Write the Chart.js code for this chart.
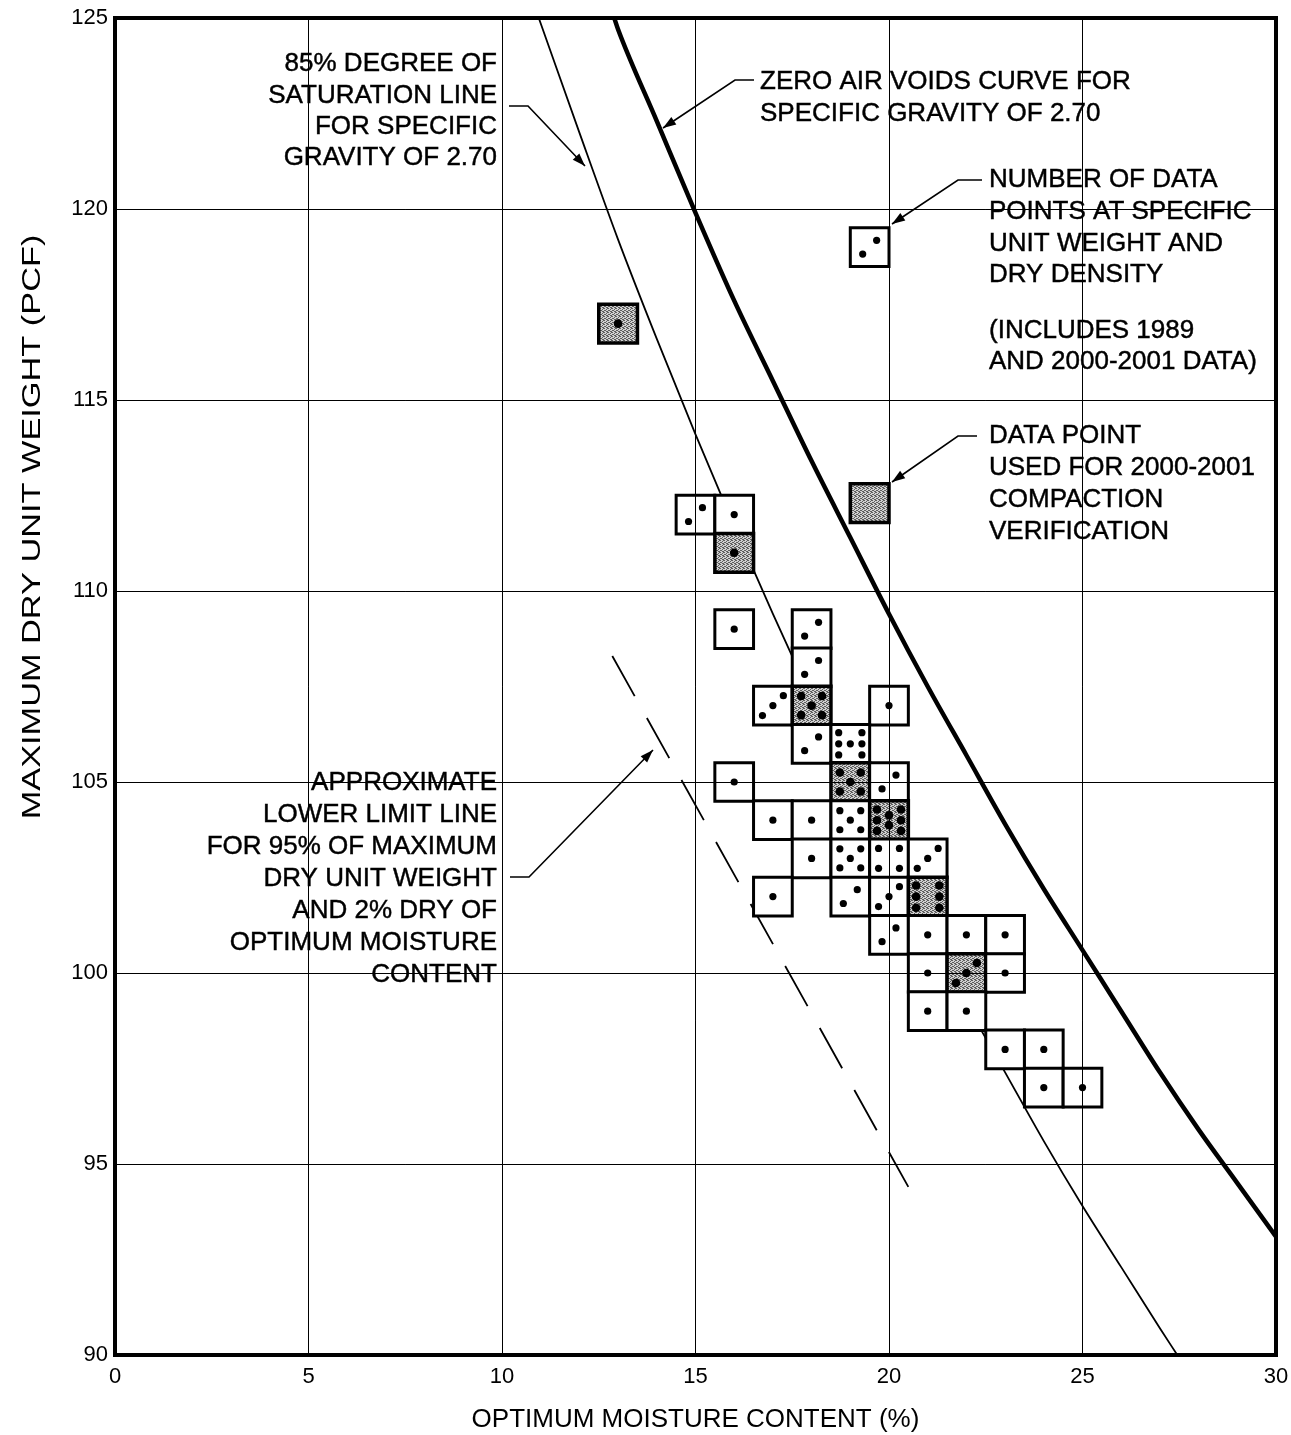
<!DOCTYPE html>
<html>
<head>
<meta charset="utf-8">
<title>Maximum dry unit weight vs optimum moisture content</title>
<script src="https://cdn.jsdelivr.net/npm/chart.js@4.4.1/dist/chart.umd.min.js"></script>
<style>
  html, body { margin: 0; padding: 0; background: #fff; }
  #wrap { width: 1291px; height: 1435px; position: relative; }
</style>
</head>
<body>
<div id="wrap"><canvas id="compaction"></canvas></div>
<script>
// values
const xTicks = [0, 5, 10, 15, 20, 25, 30];
const yTicks = [90, 95, 100, 105, 110, 115, 120, 125];

// one box per moisture / unit weight pair, count = dots in the box,
// verified = shaded box (used for 2000-2001 compaction verification)
const boxMoisture = [13, 15, 16, 16, 16, 18, 18, 17, 18, 20, 18, 19, 16, 19, 20, 17, 18, 19, 20, 18,
                     19, 20, 21, 17, 19, 20, 21, 20, 21, 22, 23, 21, 22, 23, 21, 22, 23, 24, 24, 25];
const boxDensity  = [117, 112, 112, 111, 109, 109, 108, 107, 107, 107, 106, 106, 105, 105, 105, 104, 104, 104, 104, 103,
                     103, 103, 103, 102, 102, 102, 102, 101, 101, 101, 101, 100, 100, 100, 99, 99, 98, 98, 97, 97];
const boxCount    = [1, 2, 1, 1, 1, 2, 2, 3, 5, 1, 2, 7, 1, 5, 2, 1, 1, 5, 8, 1,
                     5, 4, 3, 1, 2, 3, 6, 2, 1, 1, 1, 1, 3, 1, 1, 1, 1, 1, 1, 1];
const boxVerified = [1, 0, 0, 1, 0, 0, 0, 0, 1, 0, 0, 0, 0, 1, 0, 0, 0, 0, 1, 0,
                     0, 0, 0, 0, 0, 0, 1, 0, 0, 0, 0, 0, 1, 0, 0, 0, 0, 0, 0, 0];

// the two sample boxes next to the notes on the right
const keyMoisture = [19.5, 19.5];
const keyDensity  = [119, 112.3];
const keyCount    = [2, 0];
const keyVerified = [0, 1];

// zero air voids curve, Gs = 2.70
const zavMoisture = [12.9, 13, 14, 15, 16, 17, 18, 19, 20, 21, 22, 23, 24, 25, 26, 27, 28, 29, 30];
const zavDensity  = [125.0, 124.7, 122.3, 119.9, 117.6, 115.5, 113.4, 111.4, 109.4, 107.5,
                     105.7, 103.9, 102.2, 100.6, 99.0, 97.4, 95.9, 94.5, 93.1];

// 85% degree of saturation line, Gs = 2.70
const satMoisture = [10.95, 12, 13, 14, 15, 16, 17, 18, 19, 20, 21, 22, 23, 24, 25, 26, 27, 27.45];
const satDensity  = [125.0, 122.0, 119.2, 116.6, 114.1, 111.7, 109.4, 107.2, 105.1, 103.0,
                     101.1, 99.2, 97.4, 95.6, 93.9, 92.3, 90.7, 90.0];

// approximate lower limit line (dashed)
const limitMoisture = [12.85, 20.5];
const limitDensity  = [108.3, 94.4];

// where the dots sit inside a box, in moisture / unit weight units from the centre
const dotLayouts = {
  0: [],
  1: [[0, 0]],
  2: [[-0.18, -0.18], [0.18, 0.18]],
  3: [[-0.27, -0.26], [0, 0], [0.27, 0.26]],
  4: [[-0.27, 0.26], [0.27, 0.26], [-0.27, -0.26], [0.27, -0.26]],
  5: [[-0.27, 0.25], [0.27, 0.25], [0, 0], [-0.27, -0.25], [0.27, -0.25]],
  6: [[-0.3, 0.29], [0.3, 0.29], [-0.3, 0], [0.3, 0], [-0.3, -0.29], [0.3, -0.29]],
  7: [[-0.3, 0.29], [0.3, 0.29], [-0.3, 0], [0, 0], [0.3, 0], [-0.3, -0.29], [0.3, -0.29]],
  8: [[-0.31, 0.28], [0, 0.13], [0.31, 0.28], [-0.31, 0], [0.31, 0], [-0.31, -0.28], [0, -0.13], [0.31, -0.28]]
};

const FONT = '"Liberation Sans", Arial, Helvetica, sans-serif';

const notes = [
  { x: 497, y: [62, 94, 125, 156], align: 'right',
    lines: ['85% DEGREE OF', 'SATURATION LINE', 'FOR SPECIFIC', 'GRAVITY OF 2.70'],
    leader: [[509, 106], [528, 106], [585, 166]] },
  { x: 760, y: [80, 112], align: 'left',
    lines: ['ZERO AIR VOIDS CURVE FOR', 'SPECIFIC GRAVITY OF 2.70'],
    leader: [[754, 80], [735, 80], [663, 128]] },
  { x: 989, y: [178, 210, 242, 273, 329, 360], align: 'left',
    lines: ['NUMBER OF DATA', 'POINTS AT SPECIFIC', 'UNIT WEIGHT AND', 'DRY DENSITY', '(INCLUDES 1989', 'AND 2000-2001 DATA)'],
    leader: [[982, 180], [958, 180], [892, 224]] },
  { x: 989, y: [434, 466, 498, 530], align: 'left',
    lines: ['DATA POINT', 'USED FOR 2000-2001', 'COMPACTION', 'VERIFICATION'],
    leader: [[977, 436], [958, 436], [892, 482]] },
  { x: 497, y: [781, 813, 845, 877, 909, 941, 973], align: 'right',
    lines: ['APPROXIMATE', 'LOWER LIMIT LINE', 'FOR 95% OF MAXIMUM', 'DRY UNIT WEIGHT', 'AND 2% DRY OF', 'OPTIMUM MOISTURE', 'CONTENT'],
    leader: [[510, 877], [529, 877], [653, 750]] }
];

function stipple() {
  const c = document.createElement('canvas');
  c.width = c.height = 4;
  const g = c.getContext('2d');
  g.fillStyle = '#d0d0d0';
  g.fillRect(0, 0, 4, 4);
  g.fillStyle = '#5e5e5e';
  [[0, 0], [2, 1], [1, 2], [3, 3], [2, 3], [0, 2], [3, 0]].forEach(([i, j]) => g.fillRect(i, j, 1, 1));
  return g.createPattern(c, 'repeat');
}
const shade = stipple();

const boxPoints = [];
const dotPoints = [];
function addBoxes(xs, ys, counts, flags) {
  xs.forEach((x, i) => {
    const shaded = !!flags[i];
    boxPoints.push({ x: x, y: ys[i], shaded: shaded });
    dotLayouts[counts[i]].forEach(([dx, dy]) => dotPoints.push({ x: x + dx, y: ys[i] + dy, shaded: shaded }));
  });
}
addBoxes(boxMoisture, boxDensity, boxCount, boxVerified);
addBoxes(keyMoisture, keyDensity, keyCount, keyVerified);

const toXY = (xs, ys) => xs.map((x, i) => ({ x: x, y: ys[i] }));

const unitPx = chart => chart.scales.x.getPixelForValue(1) - chart.scales.x.getPixelForValue(0);

function arrowHead(ctx, from, to) {
  const a = Math.atan2(to[1] - from[1], to[0] - from[0]);
  const len = 13, half = 4.5;
  ctx.beginPath();
  ctx.moveTo(to[0], to[1]);
  ctx.lineTo(to[0] - len * Math.cos(a) + half * Math.sin(a), to[1] - len * Math.sin(a) - half * Math.cos(a));
  ctx.lineTo(to[0] - len * Math.cos(a) - half * Math.sin(a), to[1] - len * Math.sin(a) + half * Math.cos(a));
  ctx.closePath();
  ctx.fill();
}

const alignPx = p => Math.round(p - 0.5) + 0.5;

const overlay = {
  id: 'overlay',
  afterDatasetsDraw(chart) {
    // grid shows through the white boxes
    const { ctx, chartArea: a, scales: { x, y } } = chart;
    ctx.save();
    ctx.strokeStyle = '#000';
    ctx.lineWidth = 1;
    ctx.beginPath();
    x.ticks.forEach(t => {
      const px = alignPx(x.getPixelForValue(t.value));
      ctx.moveTo(px, a.top);
      ctx.lineTo(px, a.bottom);
    });
    y.ticks.forEach(t => {
      const py = alignPx(y.getPixelForValue(t.value));
      ctx.moveTo(a.left, py);
      ctx.lineTo(a.right, py);
    });
    ctx.stroke();
    ctx.restore();
  },
  afterDraw(chart) {
    const { ctx, chartArea: a } = chart;
    ctx.save();
    // frame
    ctx.strokeStyle = '#000';
    ctx.lineWidth = 4;
    ctx.strokeRect(a.left, a.top, a.right - a.left, a.bottom - a.top);

    // notes and leaders
    ctx.fillStyle = '#000';
    ctx.strokeStyle = '#000';
    ctx.font = '26px ' + FONT;
    ctx.textBaseline = 'alphabetic';
    notes.forEach(n => {
      ctx.textAlign = n.align;
      ctx.lineWidth = 0.45;
      n.lines.forEach((t, i) => {
        ctx.fillText(t, n.x, n.y[i] + 9.3);
        ctx.strokeText(t, n.x, n.y[i] + 9.3);
      });
      ctx.lineWidth = 1.6;
      ctx.beginPath();
      n.leader.forEach((p, i) => (i ? ctx.lineTo(p[0], p[1]) : ctx.moveTo(p[0], p[1])));
      ctx.stroke();
      const k = n.leader.length;
      arrowHead(ctx, n.leader[k - 2], n.leader[k - 1]);
    });

    // y axis title, drawn wide like the original
    ctx.translate(33, 527);
    ctx.rotate(-Math.PI / 2);
    ctx.scale(1.32, 1);
    ctx.textAlign = 'center';
    ctx.textBaseline = 'middle';
    ctx.fillStyle = '#000';
    ctx.fillText('MAXIMUM DRY UNIT WEIGHT (PCF)', 0, 0);
    ctx.restore();
  }
};

document.addEventListener('DOMContentLoaded', () => {
  const el = document.getElementById('compaction');
  new Chart(el, {
    type: 'scatter',
    data: {
      datasets: [
        {
          label: 'Data points',
          data: dotPoints,
          order: 0,
          pointStyle: 'circle',
          pointRadius: c => (c.raw && c.raw.shaded ? 4.3 : 3.6),
          pointBackgroundColor: '#000',
          pointBorderWidth: 0
        },
        {
          label: 'Boxes',
          data: boxPoints,
          order: 1,
          pointStyle: 'rect',
          pointRadius: c => unitPx(c.chart) / Math.SQRT2,
          pointBackgroundColor: c => (c.raw && c.raw.shaded ? shade : '#fff'),
          pointBorderColor: '#000',
          pointBorderWidth: c => (c.raw && c.raw.shaded ? 3.5 : 3)
        },
        {
          type: 'line',
          label: 'Zero air voids curve',
          data: toXY(zavMoisture, zavDensity),
          order: 2,
          borderColor: '#000',
          borderWidth: 4.5,
          pointRadius: 0,
          cubicInterpolationMode: 'monotone'
        },
        {
          type: 'line',
          label: '85% saturation line',
          data: toXY(satMoisture, satDensity),
          order: 3,
          borderColor: '#000',
          borderWidth: 1.8,
          pointRadius: 0,
          cubicInterpolationMode: 'monotone'
        },
        {
          type: 'line',
          label: 'Lower limit line',
          data: toXY(limitMoisture, limitDensity),
          order: 4,
          borderColor: '#000',
          borderWidth: 1.8,
          borderDash: [46, 25],
          pointRadius: 0
        }
      ]
    },
    options: {
      responsive: true,
      maintainAspectRatio: false,
      animation: false,
      events: [],
      layout: { padding: { top: 18, right: 15, left: 0, bottom: 0 } },
      plugins: {
        legend: { display: false },
        tooltip: { enabled: false }
      },
      scales: {
        x: {
          type: 'linear',
          min: 0,
          max: 30,
          afterBuildTicks: ax => { ax.ticks = xTicks.map(v => ({ value: v })); },
          afterFit: ax => {
            ax.height = 80;
            ax.paddingLeft = 0;
            ax.paddingRight = 0;
          },
          grid: { color: '#000', lineWidth: 1, drawTicks: false },
          border: { display: false },
          ticks: { color: '#000', padding: 9, maxRotation: 0, font: { family: FONT, size: 22 } },
          title: {
            display: true,
            text: 'OPTIMUM MOISTURE CONTENT (%)',
            color: '#000',
            padding: { top: 0, bottom: 0 },
            font: { family: FONT, size: 26 }
          }
        },
        y: {
          type: 'linear',
          min: 90,
          max: 125,
          afterBuildTicks: ax => { ax.ticks = yTicks.map(v => ({ value: v })); },
          afterFit: ax => {
            ax.width = 115;
            ax.paddingTop = 0;
            ax.paddingBottom = 0;
          },
          grid: { color: '#000', lineWidth: 1, drawTicks: false },
          border: { display: false },
          ticks: { color: '#000', padding: 7, font: { family: FONT, size: 22 } }
        }
      }
    },
    plugins: [overlay]
  });
});
</script>
</body>
</html>
